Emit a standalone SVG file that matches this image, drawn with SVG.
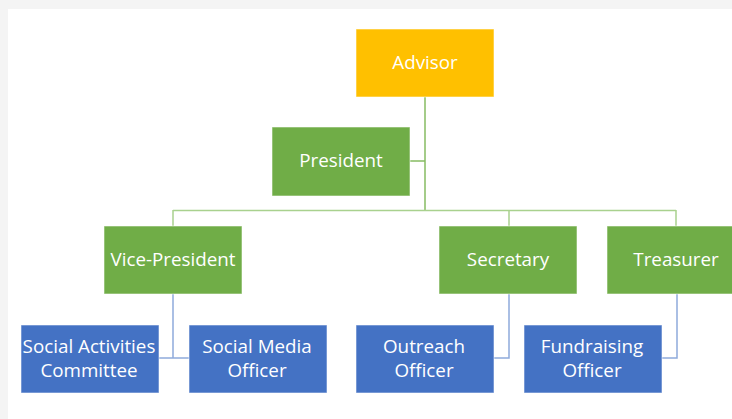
<svg xmlns="http://www.w3.org/2000/svg" width="732" height="419" viewBox="0 0 732 419">
<style>
.bg{fill:#f4f4f4}
.page{fill:#ffffff}
.box{stroke:#ffffff;stroke-opacity:0.55;stroke-width:1}
.gold{fill:#ffc000}
.green{fill:#70ad47}
.blue{fill:#4472c4}
.t{font-family:"Open Sans","Noto Sans",sans-serif;font-size:18.8px;fill:#ffffff;text-anchor:middle}
.gl{stroke:#a9d18e;stroke-width:1.5;fill:none}
.gd{stroke:#86bb62;stroke-width:1.5;fill:none}
.bl{stroke:#8faadc;stroke-width:1.5;fill:none}
</style>
<rect class="bg" x="0" y="0" width="732" height="419"/>
<rect class="page" x="8" y="9" width="724" height="410"/>
<g id="connectors">
<path class="gd" d="M425 97 V210"/>
<path class="gd" d="M410 161 H425"/>
<path class="gl" d="M173 210.5 H676 M173 210 V226 M509 210 V226 M676 210 V226"/>
<path class="bl" d="M173 294 V358 M159 358 H189"/>
<path class="bl" d="M509 294 V358 H494"/>
<path class="bl" d="M677 294 V358 H662"/>
</g>
<g id="advisor"><rect class="box gold" x="356" y="29" width="138" height="68"/><text class="t" x="425" y="69">Advisor</text></g>
<g id="president"><rect class="box green" x="272" y="127" width="138" height="69"/><text class="t" x="341" y="167">President</text></g>
<g id="vice-president"><rect class="box green" x="104" y="226" width="138" height="68"/><text class="t" x="173" y="266">Vice-President</text></g>
<g id="secretary"><rect class="box green" x="439" y="226" width="138" height="68"/><text class="t" x="508" y="266">Secretary</text></g>
<g id="treasurer"><rect class="box green" x="607" y="226" width="138" height="68"/><text class="t" x="676" y="266">Treasurer</text></g>
<g id="social-activities"><rect class="box blue" x="21" y="325" width="138" height="68"/><text class="t" x="89" y="353">Social Activities</text><text class="t" x="89" y="377">Committee</text></g>
<g id="social-media"><rect class="box blue" x="189" y="325" width="138" height="68"/><text class="t" x="257" y="353">Social Media</text><text class="t" x="257" y="377">Officer</text></g>
<g id="outreach"><rect class="box blue" x="356" y="325" width="138" height="68"/><text class="t" x="424" y="353">Outreach</text><text class="t" x="424" y="377">Officer</text></g>
<g id="fundraising"><rect class="box blue" x="524" y="325" width="138" height="68"/><text class="t" x="592" y="353">Fundraising</text><text class="t" x="592" y="377">Officer</text></g>
</svg>
